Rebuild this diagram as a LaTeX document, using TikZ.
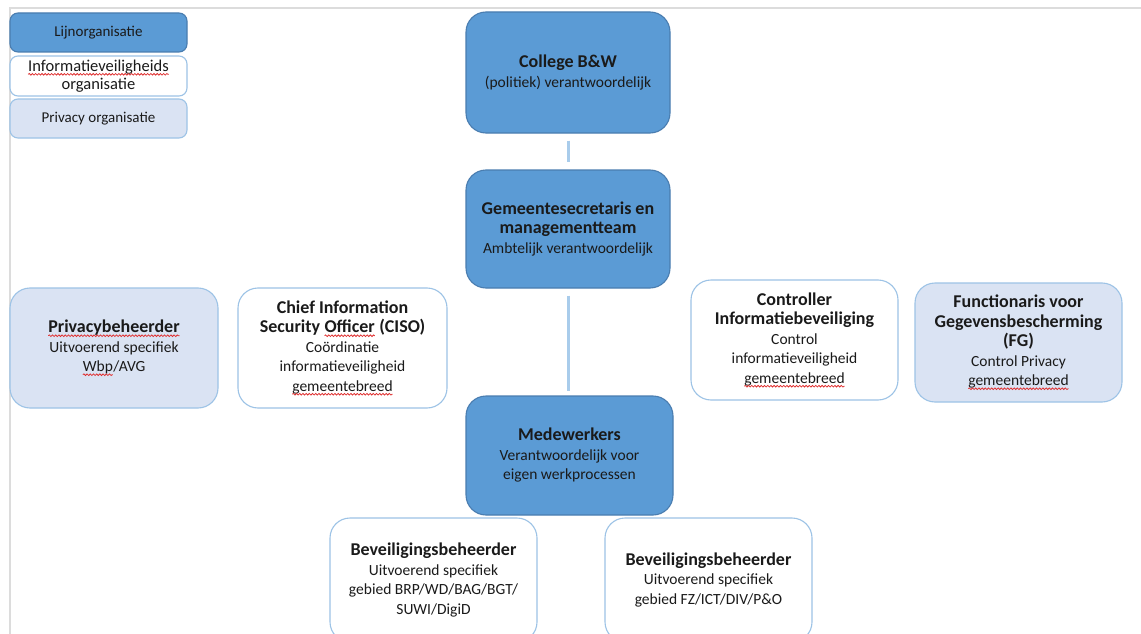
\documentclass[tikz,border=0pt]{standalone}
\usepackage{fontspec}
\setmainfont{Carlito}
\usetikzlibrary{decorations.pathmorphing}
\definecolor{linefill}{HTML}{5B9BD5}
\definecolor{lineborder}{HTML}{4A7DB0}
\definecolor{pfill}{HTML}{DAE3F3}
\definecolor{lightborder}{HTML}{9DC3E6}
\definecolor{connc}{HTML}{A9CCEB}
\definecolor{txt}{HTML}{1A1A1A}
\definecolor{frame}{HTML}{DCDCDC}
\definecolor{squigc}{HTML}{E03030}
\newcommand\squig[1]{\tikz[baseline=(sq.base)]{\node[inner sep=0pt,outer sep=0pt,draw=none,fill=none,font={},
    minimum width=0pt,minimum height=0pt,sharp corners] (sq) {#1};
  \draw[squigc, line width=0.8pt, sharp corners, decorate, decoration={snake,amplitude=0.8pt,segment length=3.2pt}]
    ([yshift=-3pt]sq.base west) -- ([yshift=-3pt]sq.base east);}}
\newcommand\ttl[1]{{\bfseries\fontsize{18}{22}\selectfont #1}}
\tikzset{
  base/.style={rounded corners=20pt, align=center, text=txt, inner sep=0pt,
    font=\fontsize{15.5}{19.5}\selectfont, line width=1.1pt},
  linebox/.style={base, fill=linefill, draw=lineborder},
  ivbox/.style={base, fill=white, draw=lightborder},
  pbox/.style={base, fill=pfill, draw=lightborder},
  legend/.style={rounded corners=8pt, font=\fontsize{15}{17}\selectfont,
    minimum width=177pt, minimum height=39pt},
  conn/.style={draw=connc, line width=3pt},
}
\begin{document}
\begin{tikzpicture}[x=1pt,y=-1pt]
\useasboundingbox (0,0) rectangle (1141,634);
\clip (0,0) rectangle (1141,634);
\fill[white] (0,0) rectangle (1141,634);
\draw[frame, line width=2pt] (10,634) -- (10,8) -- (1141,8);

% legend
\node[linebox, legend] (leg1) at (98.5,32.5) {Lijnorganisatie};
\node[ivbox, legend, minimum height=40pt, font=\fontsize{16.5}{18}\selectfont] (leg2) at (98.5,76) {\squig{Informatieveiligheids}\\organisatie};
\node[pbox, legend] (leg3) at (98.5,118.5) {Privacy organisatie};

% line organisation
\node[linebox, minimum width=204pt, minimum height=121pt] (college) at (568,72.5)
  {\ttl{College B\&W}\\(politiek) verantwoordelijk};
\node[linebox, minimum width=204pt, minimum height=118pt] (gem) at (568,229)
  {\ttl{Gemeentesecretaris en}\\\ttl{managementteam}\\Ambtelijk verantwoordelijk};
\node[linebox, minimum width=207pt, minimum height=119pt] (med) at (569.5,455.5)
  {\ttl{Medewerkers}\\Verantwoordelijk voor\\eigen werkprocessen};

% side boxes
\node[pbox, minimum width=208pt, minimum height=120pt] (priv) at (114,348)
  {\ttl{\squig{Privacybeheerder}}\\Uitvoerend specifiek\\\squig{Wbp}/AVG};
\node[ivbox, minimum width=209pt, minimum height=120pt] (ciso) at (342.5,348)
  {\ttl{Chief Information}\\\ttl{Security \squig{Officer} (CISO)}\\Coördinatie\\informatieveiligheid\\\squig{gemeentebreed}};
\node[ivbox, minimum width=207pt, minimum height=120pt] (ctrl) at (794.5,340)
  {\ttl{Controller}\\\ttl{Informatiebeveiliging}\\Control\\informatieveiligheid\\\squig{gemeentebreed}};
\node[pbox, minimum width=207pt, minimum height=119pt] (fg) at (1018.5,342.5)
  {\ttl{Functionaris voor}\\\ttl{Gegevensbescherming}\\\ttl{(FG)}\\Control Privacy\\\squig{gemeentebreed}};

% bottom boxes
\node[ivbox, minimum width=207pt, minimum height=124pt] (bev1) at (433.5,580)
  {\ttl{Beveiligingsbeheerder}\\Uitvoerend specifiek\\gebied BRP/WD/BAG/BGT/\\SUWI/DigiD};
\node[ivbox, minimum width=207pt, minimum height=124pt] (bev2) at (708.5,580)
  {\ttl{Beveiligingsbeheerder}\\Uitvoerend specifiek\\gebied FZ/ICT/DIV/P\&O};

% connectors
\draw[conn, shorten <=7pt, shorten >=7pt] (college.south) -- (gem.north);
\draw[conn, shorten <=7pt, shorten >=4pt] (gem.south) -- (gem.south |- med.north);
\end{tikzpicture}
\end{document}
